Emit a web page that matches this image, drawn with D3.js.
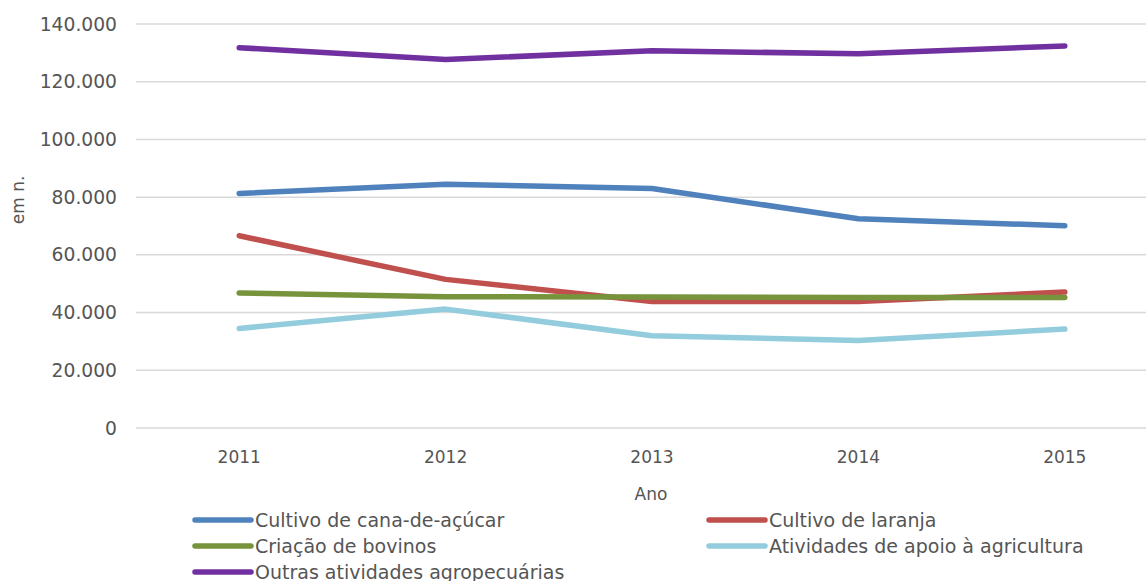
<!DOCTYPE html>
<html>
<head>
<meta charset="utf-8">
<script src="https://d3js.org/d3.v7.min.js"></script>
<style>
  body { margin: 0; background: #fff; }
  text { font-family: "DejaVu Sans", sans-serif; fill: #555; }
</style>
</head>
<body>
<script>
// data
var years = ['2011', '2012', '2013', '2014', '2015'];
var seriesNames = ['Cultivo de cana-de-açúcar', 'Cultivo de laranja', 'Criação de bovinos',
  'Atividades de apoio à agricultura', 'Outras atividades agropecuárias'];
var cana = [81300, 84500, 83000, 72500, 70100];
var laranja = [66600, 51500, 43800, 43800, 47100];
var bovinos = [46800, 45500, 45400, 45200, 45200];
var apoio = [34500, 41200, 32000, 30300, 34300];
var outras = [131800, 127700, 130700, 129700, 132400];
var yTicks = [0, 20000, 40000, 60000, 80000, 100000, 120000, 140000];
var colors = ['#4f81bd', '#c0504d', '#77933c', '#93cddd', '#7030a0'];

var series = [cana, laranja, bovinos, apoio, outras].map(function(v, i) {
  return { name: seriesNames[i], values: v, color: colors[i] };
});

var w = 1146, h = 581;
var svg = d3.select('body').append('svg').attr('width', w).attr('height', h);

var x = d3.scaleBand().domain(years).range([136, 1168]);
var y = d3.scaleLinear().domain([0, 140000]).range([428, 24]);

var loc = d3.formatLocale({ decimal: ',', thousands: '.', grouping: [3], currency: ['', ''] });
var fmt = loc.format(',');

// gridlines
svg.selectAll('.grid').data(yTicks).enter().append('line')
  .attr('x1', 136).attr('x2', w)
  .attr('y1', function(d) { return y(d); })
  .attr('y2', function(d) { return y(d); })
  .attr('stroke', '#d9d9d9').attr('stroke-width', 1.5);

// y tick labels
svg.selectAll('.ytick').data(yTicks).enter().append('text')
  .attr('x', 117).attr('y', function(d) { return y(d); })
  .attr('dy', '0.35em').attr('text-anchor', 'end')
  .style('font-size', '18.7px')
  .text(function(d) { return fmt(d); });

// x tick labels
svg.selectAll('.xtick').data(years).enter().append('text')
  .attr('x', function(d) { return x(d) + x.bandwidth() / 2; })
  .attr('y', 463).attr('text-anchor', 'middle')
  .style('font-size', '17px')
  .text(function(d) { return d; });

// axis titles
svg.append('text').attr('x', 651).attr('y', 500).attr('text-anchor', 'middle')
  .style('font-size', '17px').text('Ano');
svg.append('text').attr('transform', 'translate(24,200) rotate(-90)')
  .attr('text-anchor', 'middle').style('font-size', '17px').text('em n.');

// lines
var line = d3.line()
  .x(function(d, i) { return x(years[i]) + x.bandwidth() / 2; })
  .y(function(d) { return y(d); });

svg.selectAll('.series').data(series).enter().append('path')
  .attr('d', function(d) { return line(d.values); })
  .attr('fill', 'none')
  .attr('stroke', function(d) { return d.color; })
  .attr('stroke-width', 5.5)
  .attr('stroke-linecap', 'round')
  .attr('stroke-linejoin', 'round');

// legend
var legendPos = [[195, 520], [709, 520], [195, 546], [709, 546], [195, 572]];
var leg = svg.selectAll('.legend').data(series).enter().append('g')
  .attr('transform', function(d, i) { return 'translate(' + legendPos[i][0] + ',' + legendPos[i][1] + ')'; });
leg.append('line').attr('x1', 0).attr('x2', 56).attr('y1', 0).attr('y2', 0)
  .attr('stroke', function(d) { return d.color; })
  .attr('stroke-width', 5.5).attr('stroke-linecap', 'round');
leg.append('text').attr('x', 60).attr('dy', '0.35em')
  .style('font-size', '19px')
  .text(function(d) { return d.name; });
</script>
</body>
</html>
